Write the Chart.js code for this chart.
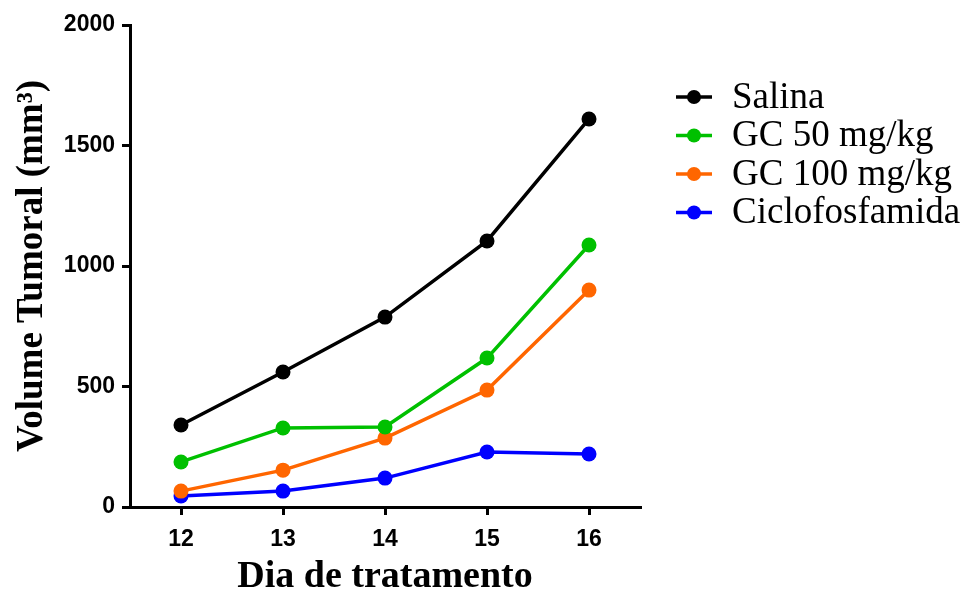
<!DOCTYPE html>
<html>
<head>
<meta charset="utf-8">
<script src="https://cdn.jsdelivr.net/npm/chart.js@4"></script>
<style>
  html, body { margin: 0; padding: 0; background: #fff; }
  #wrap { width: 968px; height: 596px; }
</style>
</head>
<body>
<div id="wrap"><canvas id="tumorChart" width="968" height="596"></canvas></div>
<script>
// dias de tratamento
const dias = ['12', '13', '14', '15', '16'];

// volume tumoral médio (mm³) por grupo
const salina = [340, 560, 788, 1104, 1610];
const gc50 = [187, 328, 332, 618, 1087];
const gc100 = [66, 153, 286, 485, 900];
const ciclofosfamida = [46, 66, 120, 228, 220];

const yTicks = [0, 500, 1000, 1500, 2000];

const nomes = ['Salina', 'GC 50 mg/kg', 'GC 100 mg/kg', 'Ciclofosfamida'];
const cores = ['#000000', '#00C000', '#FF6600', '#0000FF'];

const series = [salina, gc50, gc100, ciclofosfamida];

const datasets = series.map((vals, i) => ({
  label: nomes[i],
  data: vals,
  borderColor: cores[i],
  backgroundColor: cores[i],
  pointBackgroundColor: cores[i],
  pointBorderColor: cores[i],
  pointRadius: 7.5,
  pointBorderWidth: 0,
  borderWidth: 3.5,
  tension: 0,
  fill: false
}));

// legenda desenhada à direita (linha + ponto + texto)
const legendaLateral = {
  id: 'legendaLateral',
  afterDraw(chart) {
    const ctx = chart.ctx;
    ctx.save();
    chart.data.datasets.forEach((ds, i) => {
      const y = 97 + i * 38.5;
      ctx.strokeStyle = ds.borderColor;
      ctx.lineWidth = 3.5;
      ctx.beginPath();
      ctx.moveTo(676, y);
      ctx.lineTo(712, y);
      ctx.stroke();
      ctx.fillStyle = ds.borderColor;
      ctx.beginPath();
      ctx.arc(694, y, 7, 0, Math.PI * 2);
      ctx.fill();
      ctx.fillStyle = '#000';
      ctx.font = '37px "Liberation Serif", "Times New Roman", serif';
      ctx.textBaseline = 'middle';
      ctx.textAlign = 'left';
      ctx.fillText(ds.label, 732, y + 1);
    });
    ctx.restore();
  }
};

const tickFont = { family: '"Liberation Sans", Arial, sans-serif', size: 23, weight: 'bold' };
const titleFont = { family: '"Liberation Serif", "Times New Roman", serif', size: 37, weight: 'bold', lineHeight: 1 };

new Chart(document.getElementById('tumorChart'), {
  type: 'line',
  data: { labels: dias, datasets: datasets },
  options: {
    responsive: false,
    animation: false,
    layout: { padding: { top: 25, right: 328, left: 0, bottom: 0 } },
    plugins: {
      legend: { display: false },
      tooltip: { enabled: false }
    },
    scales: {
      x: {
        type: 'category',
        offset: true,
        grid: {
          offset: false,
          drawOnChartArea: false,
          drawTicks: true,
          tickLength: 8,
          color: '#000',
          lineWidth: 3
        },
        border: { display: true, color: '#000', width: 3 },
        ticks: { color: '#000', font: tickFont, padding: 11, maxRotation: 0 },
        title: {
          display: true,
          text: 'Dia de tratamento',
          color: '#000',
          font: { ...titleFont, size: 38 },
          padding: { top: 0, bottom: 0 }
        },
        afterFit(scale) { scale.height = 89; }
      },
      y: {
        min: 0,
        max: 2000,
        afterBuildTicks(scale) {
          scale.ticks = yTicks.map(v => ({ value: v }));
        },
        grid: {
          drawOnChartArea: false,
          drawTicks: true,
          tickLength: 8,
          color: '#000',
          lineWidth: 3
        },
        border: { display: true, color: '#000', width: 3 },
        ticks: { color: '#000', font: tickFont, padding: 7, callback: v => String(v) },
        title: {
          display: true,
          text: 'Volume Tumoral (mm³)',
          color: '#000',
          font: titleFont,
          padding: { top: 14, bottom: 0 }
        },
        afterFit(scale) { scale.width = 130; }
      }
    }
  },
  plugins: [legendaLateral]
});
</script>
</body>
</html>
